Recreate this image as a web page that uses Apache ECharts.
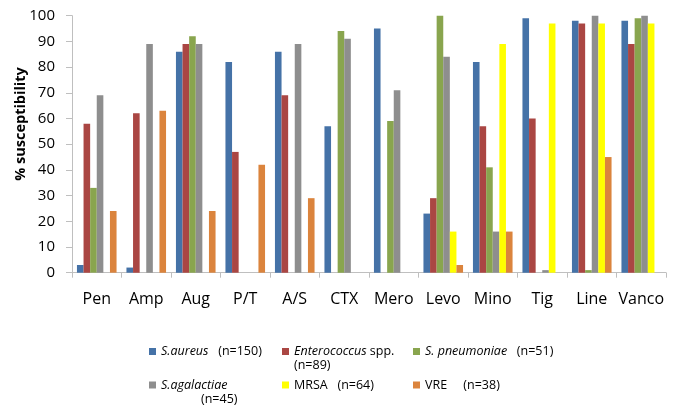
<!DOCTYPE html>
<html>
<head>
<meta charset="utf-8">
<script src="https://cdn.jsdelivr.net/npm/echarts@6/dist/echarts.min.js"></script>
<style>
  html, body { margin: 0; padding: 0; background: #fff; }
  #chart { width: 676px; height: 405px; }
</style>
</head>
<body>
<div id="chart"></div>
<script>
// Antibiotics on the category axis
const antibiotics = ['Pen', 'Amp', 'Aug', 'P/T', 'A/S', 'CTX', 'Mero', 'Levo', 'Mino', 'Tig', 'Line', 'Vanco'];

// % susceptibility per organism (null = not tested)
const sAureus      = [3, 2, 86, 82, 86, 57, 95, 23, 82, 99, 98, 98];
const enterococcus = [58, 62, 89, 47, 69, null, null, 29, 57, 60, 97, 89];
const sPneumoniae  = [33, null, 92, null, null, 94, 59, 100, 41, null, 1, 99];
const sAgalactiae  = [69, 89, 89, null, 89, 91, 71, 84, 16, 1, 100, 100];
const mrsa         = [null, null, null, null, null, null, null, 16, 89, 97, 97, 97];
const vre          = [24, 63, 24, 42, 29, null, null, 3, 16, null, 45, null];

// y-axis ticks
const yTicks = [0, 10, 20, 30, 40, 50, 60, 70, 80, 90, 100];

const seriesNames = ['S.aureus', 'Enterococcus', 'S. pneumoniae', 'S.agalactiae', 'MRSA', 'VRE'];
const seriesData = [sAureus, enterococcus, sPneumoniae, sAgalactiae, mrsa, vre];
const colors = ['#4572A7', '#AA4643', '#89A54E', '#8E8E8E', '#FFFF00', '#DB843D'];

// legend captions (rich text: italic species names)
const legendText = {
  'S.aureus': '{i|S.aureus}   (n=150)',
  'Enterococcus': '{i|Enterococcus} spp.\n(n=89)',
  'S. pneumoniae': '{i|S. pneumoniae}   (n=51)',
  'S.agalactiae': '{i|S.agalactiae}\n{ind|(n=45)}',
  'MRSA': 'MRSA   (n=64)',
  'VRE': 'VRE     (n=38)'
};
const legendLines = { 'Enterococcus': 2, 'S.agalactiae': 2 };

const FONT = 'Open Sans';
const LH = 14;
const LFS = 12.5;
// legend slots: [icon left, icon vertical centre]
const legendPos = [[149, 351.5], [282, 351.5], [413, 351.5], [149, 385], [282, 385], [413, 385]];

const legends = seriesNames.map((name, k) => {
  const two = legendLines[name] === 2;
  return {
    data: [name],
    left: legendPos[k][0],
    top: legendPos[k][1] - (two ? 1.5 * LH : LH / 2),
    padding: 0,
    itemWidth: 7,
    itemHeight: 7,
    icon: 'rect',
    selectedMode: false,
    formatter: n => legendText[n],
    textStyle: {
      fontFamily: FONT,
      fontSize: LFS,
      color: '#000',
      lineHeight: LH,
      padding: two ? [LH, 0, 0, 0] : 0,
      rich: {
        i: { fontStyle: 'italic', fontFamily: FONT, fontSize: LFS, color: '#000', lineHeight: LH },
        ind: { padding: [0, 0, 0, 40], fontFamily: FONT, fontSize: LFS, color: '#000', lineHeight: LH }
      }
    }
  };
});

const chart = echarts.init(document.getElementById('chart'), null, { renderer: 'canvas' });
chart.setOption({
  animation: false,
  color: colors,
  grid: { left: 72, right: 10, top: 15.7, bottom: 132.3 },
  legend: legends,
  xAxis: {
    type: 'category',
    data: antibiotics,
    axisLine: { lineStyle: { color: '#BFBFBF', width: 1 } },
    axisTick: { show: true, length: 5, lineStyle: { color: '#BFBFBF' } },
    axisLabel: { interval: 0, fontFamily: FONT, fontSize: 16, color: '#000', margin: 19 }
  },
  yAxis: {
    type: 'value',
    min: yTicks[0],
    max: yTicks[yTicks.length - 1],
    interval: yTicks[1] - yTicks[0],
    splitLine: { show: false },
    axisLine: { show: true, lineStyle: { color: '#BFBFBF', width: 1 } },
    axisTick: { show: true, length: 6, lineStyle: { color: '#BFBFBF' } },
    axisLabel: { fontFamily: FONT, fontSize: 15, color: '#000', margin: 17 }
  },
  graphic: [{
    type: 'text',
    x: 21,
    y: 124,
    rotation: Math.PI / 2,
    style: {
      text: '% susceptibility',
      font: 'bold 14.5px "Open Sans"',
      fill: '#000',
      align: 'center',
      verticalAlign: 'middle'
    }
  }],
  series: seriesNames.map((name, k) => ({
    name: name,
    type: 'bar',
    data: seriesData[k],
    barGap: '0%',
    barCategoryGap: '20%',
    itemStyle: { color: colors[k] }
  }))
});
</script>
</body>
</html>
